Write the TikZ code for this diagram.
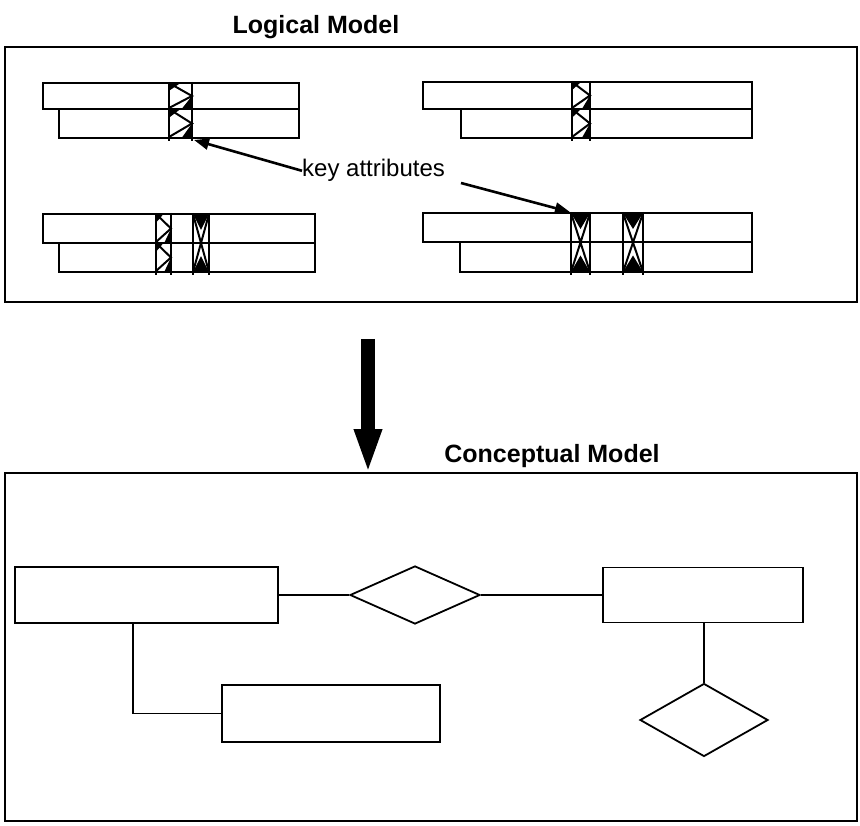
\documentclass[tikz,border=0pt]{standalone}
\usepackage{fontspec}
\setmainfont{Liberation Sans}
\usetikzlibrary{shapes.geometric,arrows.meta}

% zigzag hatch in a key column: #1 left, #2 right, #3 top, #4 row divide, #5 bottom
\newcommand\keyzig[5]{%
  \draw[keyline] (#1,#3-1) -- (#1,#5+3) (#2,#3-1) -- (#2,#5+3);
  \foreach \t/\b in {#3/#4,#4/#5}{%
    \draw[hatch, line join=miter] (#1,\t) -- (#2,{\t+0.5*(\b-\t)}) -- (#1,{\b-1});
    \fill (#1,\t) -- ({#1+0.5*(#2-#1)},\t) -- (#1,{\t+0.3*(\b-\t)}) -- cycle;
    \fill (#2,{\t+0.5*(\b-\t)}) -- (#2,{\b}) -- ({#1+0.55*(#2-#1)},\b) -- cycle;
  }%
}
% crossed hatch in a key column: #1 left, #2 right, #3 top, #4 row divide, #5 bottom
\newcommand\keycross[5]{%
  \draw[keyline] (#1,#3-1) -- (#1,#5+3) (#2,#3-1) -- (#2,#5+3);
  \draw[hatch] (#1,#3) -- (#2,#5) (#2,#3) -- (#1,#5);
  \fill (#1,#3) -- (#2,#3) -- ({0.5*(#1+#2)},{#3+0.55*(#4-#3)}) -- cycle;
  \fill (#1,#5) -- (#2,#5) -- ({0.5*(#1+#2)},{#5-0.55*(#5-#4)}) -- cycle;
}

\begin{document}
\begin{tikzpicture}[x=1pt,y=-1pt,
  frame/.style={draw, line width=2.3pt},
  rowbox/.style={draw, line width=2pt},
  keyline/.style={line width=2.2pt},
  hatch/.style={line width=2pt},
  title/.style={font=\bfseries\fontsize{25}{30}\selectfont, inner sep=0pt, anchor=base},
  label/.style={font=\fontsize{24}{29}\selectfont, inner sep=0pt},
  pointer/.style={line width=2.6pt, -{Triangle[length=15pt,width=11pt]}},
  entity/.style={draw, line width=1.8pt, inner sep=0pt},
  relation/.style={draw, diamond, line width=1.8pt, inner sep=0pt},
  link/.style={line width=1.5pt}]
\useasboundingbox (0,0) rectangle (860,826);

% ---------- logical model ----------
\node[title] (ltitle) at (316,34) {Logical Model};
\draw[frame] (5,47) rectangle (857,302);

% table stacks
\draw[rowbox] (43,83) rectangle (299,109) (59,109) rectangle (299,138);
\draw[rowbox] (423,82) rectangle (752,109) (461,109) rectangle (752,138);
\draw[rowbox] (43,214) rectangle (315,243) (59,243) rectangle (315,272);
\draw[rowbox] (423,213) rectangle (752,242) (460,242) rectangle (752,272);

% key columns
\keyzig{169}{192}{83}{109}{138}
\keyzig{572}{590}{82}{109}{138}
\keyzig{156}{171}{214}{243}{272}
\keycross{193}{209}{214}{243}{272}
\keycross{571}{590}{213}{242}{272}
\keycross{623}{643}{213}{242}{272}

% key attribute pointers
\node[label, anchor=base west] (keys) at (302,177) {key attributes};
\coordinate (keyA) at (194,140);
\coordinate (keyB) at (570,212);
\coordinate (keyStart) at (461,183);
\draw[pointer] (keys.west) -- (keyA);
\draw[pointer] (keyStart) -- (keyB);

% ---------- transformation arrow ----------
\coordinate (bigTail) at (368,339);
\coordinate (bigTip) at (368,474);
\draw[line width=14pt, -{Triangle[length=45pt,width=25pt]}] (bigTail) -- (bigTip);

% ---------- conceptual model ----------
\node[title] (ctitle) at (552,462) {Conceptual Model};
\draw[frame] (5,473) rectangle (857,821);

\node[entity, minimum width=263pt, minimum height=56pt] (entA) at (146.5,595) {};
\node[entity, minimum width=200pt, minimum height=55pt] (entB) at (703,595) {};
\node[entity, minimum width=218pt, minimum height=57pt] (entC) at (331,713.5) {};
\node[relation, minimum width=130pt, minimum height=58pt] (relA) at (415,595) {};
\node[relation, minimum width=128pt, minimum height=73pt] (relB) at (704,720) {};

\coordinate (bend) at (133,713.5);
\draw[link] (entA.east) -- (relA.west);
\draw[link] (relA.east) -- (entB.west);
\draw[link] (entB.south -| relB.north) -- (relB.north);
\draw[link] (entA.south -| bend) -- (bend) -- (entC.west);
\end{tikzpicture}
\end{document}
